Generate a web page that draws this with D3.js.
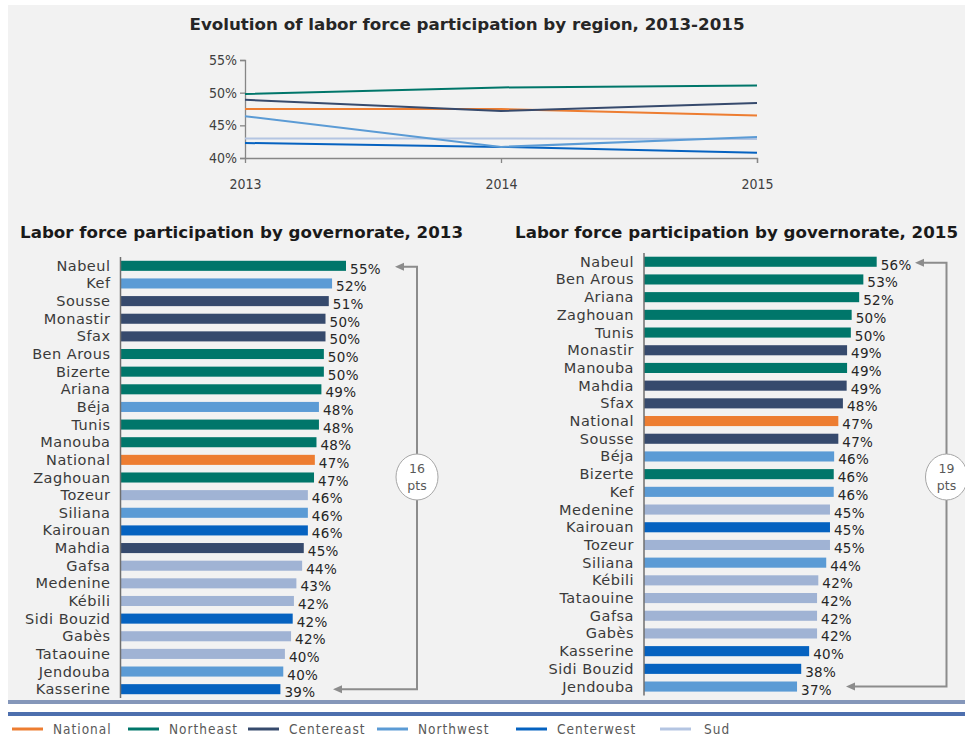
<!DOCTYPE html>
<html>
<head>
<meta charset="utf-8">
<script src="https://cdn.jsdelivr.net/npm/d3@7"></script>
<style>
  body { margin: 0; background: #fff; }
  svg { display: block; }
</style>
</head>
<body>
<svg id="chart" width="965" height="735"></svg>
<script>
// ---- data ----
const years = [2013, 2014, 2015];
const yTicks = [40, 45, 50, 55];

const regions = ["National", "Northeast", "Centereast", "Northwest", "Centerwest", "Sud"];
const nationalRate   = [47.5, 47.5, 46.5];
const northeastRate  = [49.8, 50.8, 51.1];
const centereastRate = [48.9, 47.2, 48.4];
const northwestRate  = [46.4, 41.7, 43.2];
const centerwestRate = [42.3, 41.7, 40.8];
const sudRate        = [43.0, 43.0, 42.9];

const gov2013 = ["Nabeul", "Kef", "Sousse", "Monastir", "Sfax", "Ben Arous", "Bizerte", "Ariana", "Béja", "Tunis",
  "Manouba", "National", "Zaghouan", "Tozeur", "Siliana", "Kairouan", "Mahdia", "Gafsa", "Medenine", "Kébili",
  "Sidi Bouzid", "Gabès", "Tataouine", "Jendouba", "Kasserine"];
const rate2013 = [55.0, 51.6, 50.8, 50.0, 50.0, 49.6, 49.6, 49.0, 48.4, 48.4,
  47.8, 47.4, 47.2, 45.7, 45.7, 45.7, 44.7, 44.3, 42.9, 42.3,
  42.0, 41.6, 40.1, 39.7, 39.0];

const gov2015 = ["Nabeul", "Ben Arous", "Ariana", "Zaghouan", "Tunis", "Monastir", "Manouba", "Mahdia", "Sfax", "National",
  "Sousse", "Béja", "Bizerte", "Kef", "Medenine", "Kairouan", "Tozeur", "Siliana", "Kébili", "Tataouine",
  "Gafsa", "Gabès", "Kasserine", "Sidi Bouzid", "Jendouba"];
const rate2015 = [55.8, 52.6, 51.6, 49.8, 49.6, 48.7, 48.7, 48.6, 47.7, 46.6,
  46.6, 45.6, 45.5, 45.5, 44.6, 44.6, 44.6, 43.7, 41.8, 41.5,
  41.5, 41.5, 39.6, 37.7, 36.7];

// region of each governorate
const govRegion = {
  "Nabeul": "Northeast", "Ben Arous": "Northeast", "Ariana": "Northeast", "Zaghouan": "Northeast",
  "Tunis": "Northeast", "Manouba": "Northeast", "Bizerte": "Northeast",
  "Sousse": "Centereast", "Monastir": "Centereast", "Sfax": "Centereast", "Mahdia": "Centereast",
  "Kef": "Northwest", "Béja": "Northwest", "Siliana": "Northwest", "Jendouba": "Northwest",
  "Kairouan": "Centerwest", "Sidi Bouzid": "Centerwest", "Kasserine": "Centerwest",
  "Tozeur": "Sud", "Gafsa": "Sud", "Medenine": "Sud", "Kébili": "Sud", "Gabès": "Sud", "Tataouine": "Sud",
  "National": "National"
};

const color = d3.scaleOrdinal()
  .domain(regions)
  .range(["#ed7d31", "#00766a", "#364a6d", "#5b9bd5", "#0562c0", "#a0b3d4"]);

const svg = d3.select("#chart");
const FONT = "'DejaVu Sans', Verdana, sans-serif";
const NARROW = "'Liberation Sans Narrow', 'DejaVu Sans Condensed', Arial, sans-serif";

// background panel + bottom rules
svg.append("rect").attr("x", 8).attr("y", 5).attr("width", 957).attr("height", 695).attr("fill", "#f2f2f2");
svg.append("rect").attr("x", 8).attr("y", 700).attr("width", 957).attr("height", 4).attr("fill", "#8597ba");
svg.append("rect").attr("x", 8).attr("y", 712).attr("width", 957).attr("height", 4).attr("fill", "#4d6fae");

// -----------------------------
// 1. Line chart — evolution by region
// -----------------------------
function drawLineChart() {
  const x = d3.scalePoint().domain(years).range([245, 757]);
  const y = d3.scaleLinear().domain([40, 55]).range([158, 60]);

  svg.append("text")
    .attr("x", 467).attr("y", 30)
    .attr("text-anchor", "middle")
    .attr("textLength", 555).attr("lengthAdjust", "spacingAndGlyphs")
    .style("font-family", NARROW)
    .style("font-weight", "bold").style("font-size", "15px").style("fill", "#262626")
    .text("Evolution of labor force participation by region, 2013-2015");

  const yAxis = svg.append("g")
    .attr("transform", `translate(${x(2013)},0)`)
    .call(d3.axisLeft(y).tickValues(yTicks).tickSize(5).tickPadding(3).tickFormat(d => d + "%"));
  const xAxis = svg.append("g")
    .attr("transform", `translate(0,${y(40)})`)
    .call(d3.axisBottom(x).tickSize(5).tickPadding(16));

  [yAxis, xAxis].forEach(a => {
    a.select(".domain").attr("stroke", "#868686").attr("stroke-width", 1.3);
    a.selectAll(".tick line").attr("stroke", "#868686").attr("stroke-width", 1.3);
    a.selectAll("text").style("font-family", NARROW)
      .style("font-size", "14px").attr("fill", "#404040");
  });
  xAxis.select(".tick line").remove();

  const series = [
    { name: "Sud", values: sudRate },
    { name: "Centerwest", values: centerwestRate },
    { name: "Northwest", values: northwestRate },
    { name: "National", values: nationalRate },
    { name: "Centereast", values: centereastRate },
    { name: "Northeast", values: northeastRate }
  ];

  const line = d3.line().x((d, i) => x(years[i])).y(d => y(d));

  svg.selectAll(".region-line")
    .data(series)
    .enter()
    .append("path")
    .attr("class", "region-line")
    .attr("fill", "none")
    .attr("stroke", d => d.name === "Sud" ? "#b4c5e2" : color(d.name))
    .attr("stroke-width", 2)
    .attr("d", d => line(d.values));
}

// -----------------------------
// 2. Horizontal bars — governorates
// -----------------------------
function drawBars(opts) {
  const { names, values, axisX, yTop, yBottom, titleX, title, bracketX, tipTop, tipBottom } = opts;

  const x = d3.scaleLinear().domain([0, 60]).range([axisX, axisX + 60 * opts.pxPerPt]);
  const y = d3.scaleBand().domain(names).range([yTop, yBottom])
    .paddingInner(0.43).paddingOuter(0.215);
  const rows = names.map((n, i) => ({ name: n, value: values[i] }));

  svg.append("text")
    .attr("x", titleX).attr("y", 238)
    .attr("textLength", 443).attr("lengthAdjust", "spacingAndGlyphs")
    .style("font-family", FONT).style("font-weight", "bold").style("font-size", "15px")
    .style("fill", "#1a1a1a")
    .text(title);

  svg.selectAll(null)
    .data(rows)
    .enter()
    .append("rect")
    .attr("x", x(0))
    .attr("y", d => y(d.name))
    .attr("width", d => x(d.value) - x(0))
    .attr("height", y.bandwidth())
    .attr("fill", d => color(govRegion[d.name]));

  // category axis
  svg.append("line")
    .attr("x1", axisX).attr("x2", axisX)
    .attr("y1", yTop).attr("y2", yBottom)
    .attr("stroke", "#6f6f6f").attr("stroke-width", 1.5);

  svg.selectAll(null)
    .data(rows)
    .enter()
    .append("text")
    .attr("x", axisX - 10)
    .attr("y", d => y(d.name) + y.bandwidth() / 2 + 5)
    .attr("text-anchor", "end")
    .style("font-family", FONT).style("font-size", "14.5px").style("letter-spacing", "0.5px")
    .style("fill", "#3a3a3a")
    .text(d => d.name);

  svg.selectAll(null)
    .data(rows)
    .enter()
    .append("text")
    .attr("x", d => x(d.value) + 4)
    .attr("y", d => y(d.name) + y.bandwidth() / 2 + 8)
    .style("font-family", FONT).style("font-size", "13.5px").style("letter-spacing", "0.3px")
    .style("fill", "#262626")
    .text(d => Math.round(d.value) + "%");

  // bracket from top bar to bottom bar
  const yFirst = y(names[0]) + y.bandwidth() / 2 + 1;
  const yLast = y(names[names.length - 1]) + y.bandwidth() / 2;
  const gap = Math.round(d3.max(values)) - Math.round(d3.min(values));
  const gray = "#8c8c8c";

  svg.append("path")
    .attr("d", `M${tipTop + 6},${yFirst} H${bracketX} V${yLast} H${tipBottom + 6}`)
    .attr("fill", "none").attr("stroke", gray).attr("stroke-width", 2);
  [[tipTop, yFirst], [tipBottom, yLast]].forEach(([tx, ty]) => {
    svg.append("path")
      .attr("d", `M${tx},${ty} L${tx + 9},${ty - 4} L${tx + 9},${ty + 4} Z`)
      .attr("fill", gray);
  });

  const cy = 477;
  svg.append("ellipse")
    .attr("cx", bracketX).attr("cy", cy).attr("rx", 21).attr("ry", 23)
    .attr("fill", "#fff").attr("stroke", "#a6a6a6").attr("stroke-width", 1);
  svg.append("text")
    .attr("x", bracketX).attr("y", cy - 4)
    .attr("text-anchor", "middle")
    .style("font-family", FONT).style("font-size", "12.5px").style("fill", "#595959")
    .text(gap);
  svg.append("text")
    .attr("x", bracketX).attr("y", cy + 13)
    .attr("text-anchor", "middle")
    .style("font-family", FONT).style("font-size", "12.5px").style("fill", "#595959")
    .text("pts");
}

// -----------------------------
// 3. Legend
// -----------------------------
function drawLegend() {
  const legendX = [12, 128, 248, 377, 516, 660];
  const g = svg.selectAll(".legend")
    .data(regions)
    .enter()
    .append("g")
    .attr("class", "legend")
    .attr("transform", (d, i) => `translate(${legendX[i]},729)`);

  g.append("line")
    .attr("x1", 0).attr("x2", 31)
    .attr("stroke", d => d === "Sud" ? "#b4c5e2" : color(d))
    .attr("stroke-width", 3);
  g.append("text")
    .attr("x", (d, i) => i === 5 ? 44 : 41).attr("y", 4.5)
    .style("font-family", NARROW)
    .style("font-size", "13.5px").style("letter-spacing", "1px").style("fill", "#595959")
    .text(d => d);
}

drawLineChart();
drawBars({
  names: gov2013, values: rate2013, axisX: 120.5, pxPerPt: 4.1,
  yTop: 257, yBottom: 698, titleX: 20,
  title: "Labor force participation by governorate, 2013",
  bracketX: 417, tipTop: 395, tipBottom: 333
});
drawBars({
  names: gov2015, values: rate2015, axisX: 644, pxPerPt: 4.17,
  yTop: 252.9, yBottom: 695.4, titleX: 515,
  title: "Labor force participation by governorate, 2015",
  bracketX: 946.5, tipTop: 915, tipBottom: 846
});
drawLegend();
</script>
</body>
</html>
